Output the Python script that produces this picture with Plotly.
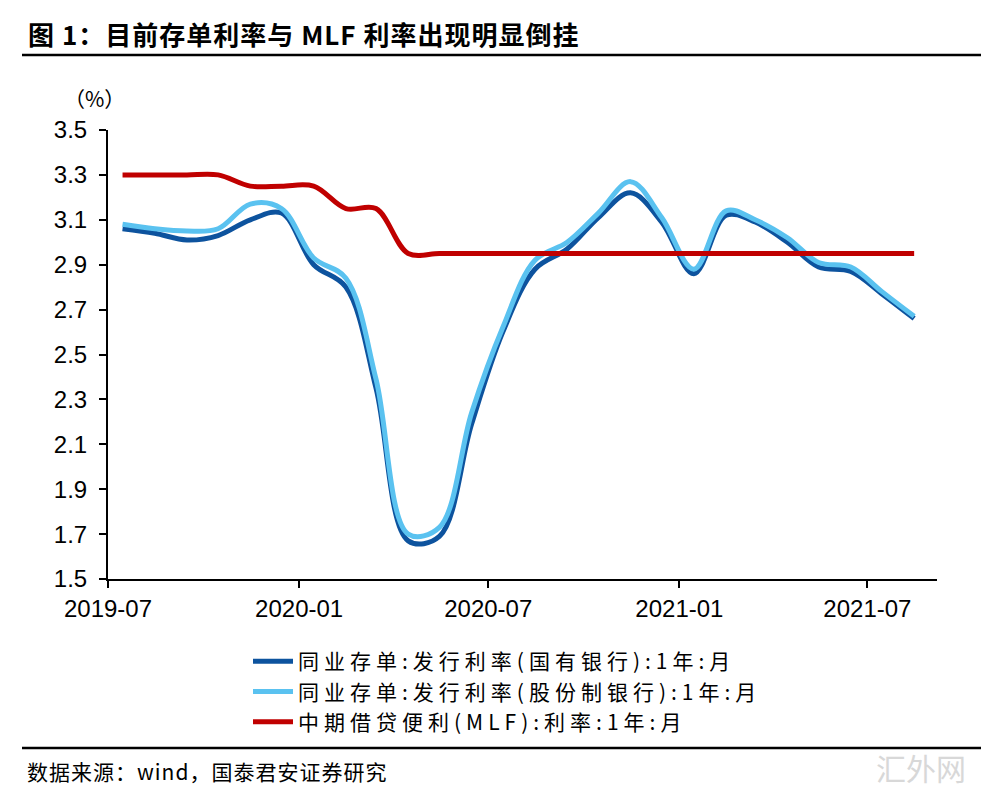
import plotly.graph_objects as go

# monthly observations, 2019-07 .. 2021-08
months = ['2019-07', '2019-08', '2019-09', '2019-10', '2019-11', '2019-12',
          '2020-01', '2020-02', '2020-03', '2020-04', '2020-05', '2020-06',
          '2020-07', '2020-08', '2020-09', '2020-10', '2020-11', '2020-12',
          '2021-01', '2021-02', '2021-03', '2021-04', '2021-05', '2021-06',
          '2021-07', '2021-08']

# 同业存单:发行利率(国有银行):1年:月
cd_state = [3.06, 3.04, 3.01, 3.03, 3.10, 3.13, 2.90, 2.80, 2.35, 1.67,
            1.69, 2.19, 2.60, 2.88, 2.97, 3.11, 3.22, 3.09, 2.86, 3.12,
            3.09, 3.00, 2.89, 2.87, 2.77, 2.66]
# 同业存单:发行利率(股份制银行):1年:月
cd_joint = [3.08, 3.06, 3.05, 3.06, 3.17, 3.15, 2.93, 2.84, 2.39, 1.70,
            1.73, 2.24, 2.62, 2.92, 3.00, 3.13, 3.27, 3.11, 2.88, 3.14,
            3.10, 3.02, 2.91, 2.89, 2.78, 2.67]
# 中期借贷便利(MLF):利率:1年:月
mlf = [3.30, 3.30, 3.30, 3.30, 3.25, 3.25, 3.25, 3.15, 3.15, 2.95,
       2.95, 2.95, 2.95, 2.95, 2.95, 2.95, 2.95, 2.95, 2.95, 2.95,
       2.95, 2.95, 2.95, 2.95, 2.95, 2.95]

y_ticks = [1.5, 1.7, 1.9, 2.1, 2.3, 2.5, 2.7, 2.9, 3.1, 3.3, 3.5]
x_ticks = ['2019-07', '2020-01', '2020-07', '2021-01', '2021-07']

names = ['同业存单:发行利率(国有银行):1年:月',
         '同业存单:发行利率(股份制银行):1年:月',
         '中期借贷便利(MLF):利率:1年:月']
colors = ['#0D539E', '#5AC2F0', '#C00000']

# page has an 8px body margin, so the figure is a bit smaller than the window
PAGE_W, PAGE_H, OFF = 996, 800, 8
W, H = PAGE_W - 2 * OFF, PAGE_H - 2 * OFF
L, R, T, B = 108, 937, 130, 579


def px(x):
    return (x - L) / (R - L)


def py(y):
    return (B - y) / (B - T)


def spaced(s, n):
    return '<span style="letter-spacing:%dpx">%s</span>' % (n, s)


dates = [m + '-15' for m in months]
fig = go.Figure()
for name, vals, c in zip(names, [cd_state, cd_joint, mlf], colors):
    fig.add_trace(go.Scatter(x=dates, y=vals, name=spaced(name, 5), mode='lines',
                             line=dict(color=c, width=5, shape='spline', smoothing=1.0)))

cjk = 'Noto Sans CJK SC'
fig.update_layout(
    width=W, height=H,
    margin=dict(l=L - OFF, r=OFF + W - R, t=T - OFF, b=OFF + H - B),
    paper_bgcolor='white', plot_bgcolor='white',
    font=dict(family=cjk, color='black'),
    showlegend=True,
    legend=dict(x=px(248), y=py(641), xanchor='left', yanchor='top',
                font=dict(family=cjk, size=21, color='black'),
                bgcolor='rgba(0,0,0,0)', tracegroupgap=0, itemwidth=40),
    xaxis=dict(type='date', range=['2019-07-01', '2021-09-06'],
               tickvals=[t + '-01' for t in x_ticks], ticktext=x_ticks,
               showgrid=False, zeroline=False,
               showline=True, linecolor='black', linewidth=2,
               ticks='outside', ticklen=7, tickwidth=2, tickcolor='black',
               ticklabelstandoff=0,
               tickfont=dict(family='Liberation Sans', size=24, color='black')),
    yaxis=dict(range=[1.5, 3.5], tickvals=y_ticks,
               ticktext=['%.1f' % v for v in y_ticks],
               showgrid=False, zeroline=False,
               showline=True, linecolor='black', linewidth=2,
               ticks='outside', ticklen=7, tickwidth=2, tickcolor='black',
               ticklabelstandoff=7,
               tickfont=dict(family='Liberation Sans', size=24, color='black')),
)

# title, unit, source and rules
fig.add_annotation(x=px(26), y=py(33), xref='paper', yref='paper',
                   xanchor='left', yanchor='middle', showarrow=False,
                   text='<b>' + spaced('图 1：目前存单利率与 MLF 利率出现明显倒挂', 1) + '</b>',
                   font=dict(family=cjk, size=26, color='black'))
fig.add_annotation(x=px(62), y=py(98), xref='paper', yref='paper',
                   xanchor='left', yanchor='middle', showarrow=False,
                   text='（%）', font=dict(family=cjk, size=21, color='black'))
fig.add_annotation(x=px(25), y=py(771), xref='paper', yref='paper',
                   xanchor='left', yanchor='middle', showarrow=False,
                   text=spaced('数据来源：wind，国泰君安证券研究', 1),
                   font=dict(family=cjk, size=21, color='black'))
fig.add_annotation(x=px(968), y=py(767), xref='paper', yref='paper',
                   xanchor='right', yanchor='middle', showarrow=False,
                   text='汇外网', font=dict(family=cjk, size=30, color='#d8d8d8'))
for yy in (55, 748):
    fig.add_shape(type='line', xref='paper', yref='paper',
                  x0=px(22), x1=px(981), y0=py(yy), y1=py(yy),
                  line=dict(color='black', width=2.5))

fig.write_html('out.html')
